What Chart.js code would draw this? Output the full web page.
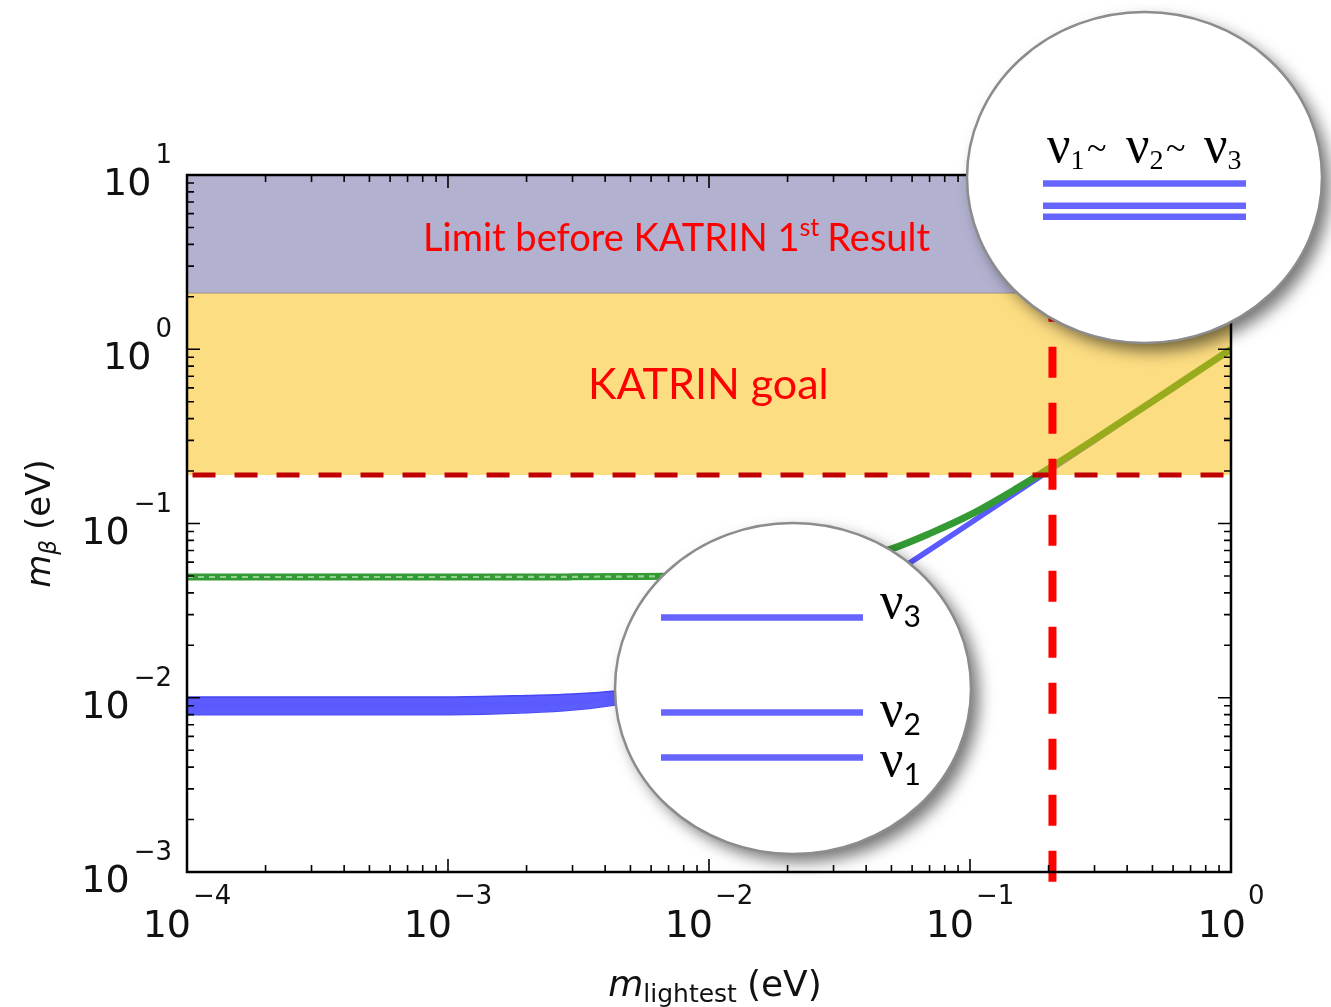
<!DOCTYPE html>
<html>
<head>
<meta charset="utf-8">
<script src="https://cdn.jsdelivr.net/npm/chart.js@4.4.0/dist/chart.umd.min.js"></script>
<style>
  html, body { margin: 0; padding: 0; background: #fff; }
  #wrap { width: 1331px; height: 1007px; }
</style>
</head>
<body>
<div id="wrap"><canvas id="mbeta" width="1331" height="1007"></canvas></div>
<script>
const mLightest = [1e-4, 2e-4, 5e-4, 1e-3, 2e-3, 3e-3, 5e-3, 7e-3, 1e-2, 1.5e-2, 2e-2, 3e-2, 5e-2, 7e-2, 0.1, 0.15, 0.2, 0.3, 0.5, 0.7, 1.0];

// normal ordering (blue band)
const normalMid  = [0.00895, 0.00895, 0.00896, 0.0090, 0.00917, 0.00944, 0.0103, 0.0114, 0.0134, 0.0175, 0.0219, 0.0313, 0.0508, 0.0706, 0.1004, 0.150, 0.200, 0.300, 0.500, 0.700, 1.0];
const normalHigh = [0.0101, 0.0101, 0.0101, 0.0101, 0.0103, 0.0105, 0.0112, 0.0123, 0.0142, 0.0181, 0.0224, 0.0317, 0.0510, 0.0707, 0.1005, 0.150, 0.200, 0.300, 0.500, 0.700, 1.0];
const normalLow  = [0.0080, 0.0080, 0.0080, 0.0080, 0.0082, 0.0085, 0.0094, 0.0106, 0.0128, 0.0170, 0.0215, 0.0310, 0.0506, 0.0704, 0.1003, 0.150, 0.200, 0.300, 0.500, 0.700, 1.0];

// inverted ordering (green band)
const invertedMid = [0.0493, 0.0493, 0.0493, 0.0493, 0.0493, 0.0494, 0.0496, 0.0498, 0.0503, 0.0515, 0.0532, 0.0580, 0.0715, 0.0875, 0.1120, 0.158, 0.206, 0.304, 0.502, 0.702, 1.0];
// flat, hatched part of the green band
const invertedFlatX = [1e-4, 1e-3, 3e-3, 7e-3];
const invertedFlatY = [0.0493, 0.0493, 0.0494, 0.0498];

// limits (eV)
const plotTop = 10;
const limitBefore = 2.1;     // before KATRIN 1st result
const katrinGoal = 0.19;     // KATRIN goal
const goalCrossX = 0.207;    // vertical marker on m_lightest
const axisFoot = 8.8e-4;     // vertical marker runs a bit below the axis

// tick labels
const xMajor = [1e-4, 1e-3, 1e-2, 1e-1, 1];
const xExp   = ['\u22124', '\u22123', '\u22122', '\u22121', '0'];
const yMajor = [1e-3, 1e-2, 1e-1, 1, 10];
const yExp   = ['\u22123', '\u22122', '\u22121', '0', '1'];

const pts = (xs, ys) => xs.map((x, i) => ({ x: x, y: ys[i] }));

const F_TICK = '38px "DejaVu Sans"';
const F_EXP  = '26px "DejaVu Sans"';

function runsWidth(ctx, runs) {
  let w = 0;
  runs.forEach(r => { ctx.font = r.font; w += ctx.measureText(r.t).width + (r.gap || 0); });
  return w;
}
function drawRuns(ctx, runs, x, y) {
  runs.forEach(r => {
    ctx.font = r.font;
    ctx.fillText(r.t, x, y + (r.dy || 0));
    x += ctx.measureText(r.t).width + (r.gap || 0);
  });
  return x;
}

const decor = {
  id: 'decor',
  afterDraw(chart) {
    const ctx = chart.ctx, a = chart.chartArea;
    const xs = chart.scales.x, ys = chart.scales.y;
    ctx.save();
    ctx.textBaseline = 'alphabetic';
    ctx.textAlign = 'left';

    // band labels
    ctx.fillStyle = '#ff0000';
    drawRuns(ctx, [
      { t: 'Limit before KATRIN 1', font: '38px Lato' },
      { t: 'st', font: '25px Lato', dy: -15, gap: 8 },
      { t: 'Result', font: '38px Lato' }
    ], 423, 251);
    drawRuns(ctx, [{ t: 'KATRIN goal', font: '43px Lato' }], 588, 399);

    // frame
    ctx.strokeStyle = '#000';
    ctx.lineWidth = 2.5;
    ctx.strokeRect(a.left, a.top, a.right - a.left, a.bottom - a.top);

    // inward ticks, all four sides
    ctx.lineWidth = 1.6;
    ctx.beginPath();
    xMajor.forEach(v => {
      for (let k = 1; k <= 9; k++) {
        const val = v * k;
        if (val > xs.max * 1.0001) break;
        const px = xs.getPixelForValue(val);
        const len = k === 1 ? 13 : 7;
        ctx.moveTo(px, a.bottom); ctx.lineTo(px, a.bottom - len);
        ctx.moveTo(px, a.top); ctx.lineTo(px, a.top + len);
      }
    });
    yMajor.forEach(v => {
      for (let k = 1; k <= 9; k++) {
        const val = v * k;
        if (val > ys.max * 1.0001) break;
        const py = ys.getPixelForValue(val);
        const len = k === 1 ? 13 : 7;
        ctx.moveTo(a.left, py); ctx.lineTo(a.left + len, py);
        ctx.moveTo(a.right, py); ctx.lineTo(a.right - len, py);
      }
    });
    ctx.stroke();

    // tick labels 10^n
    ctx.fillStyle = '#111';
    xMajor.forEach((v, i) => {
      const runs = [{ t: '10', font: F_TICK, gap: 2 }, { t: xExp[i], font: F_EXP, dy: -33 }];
      const w = runsWidth(ctx, runs);
      drawRuns(ctx, runs, xs.getPixelForValue(v) - w / 2, 937);
    });
    yMajor.forEach((v, i) => {
      const runs = [{ t: '10', font: F_TICK, gap: 4 }, { t: yExp[i], font: F_EXP, dy: -32 }];
      const w = runsWidth(ctx, runs);
      drawRuns(ctx, runs, 172 - w, ys.getPixelForValue(v) + 20);
    });

    // axis titles
    const xt = [
      { t: 'm', font: 'italic 36px "DejaVu Sans"' },
      { t: 'lightest', font: '25px "DejaVu Sans"', dy: 6, gap: 10 },
      { t: '(eV)', font: '36px "DejaVu Sans"' }
    ];
    drawRuns(ctx, xt, (a.left + a.right) / 2 + 6 - runsWidth(ctx, xt) / 2, 996);
    const yt = [
      { t: 'm', font: 'italic 34px "DejaVu Sans"' },
      { t: '\u03b2', font: 'italic 23px "DejaVu Sans"', dy: 6, gap: 10 },
      { t: '(eV)', font: '34px "DejaVu Sans"' }
    ];
    ctx.save();
    ctx.translate(50, (a.top + a.bottom) / 2);
    ctx.rotate(-Math.PI / 2);
    drawRuns(ctx, yt, -runsWidth(ctx, yt) / 2, 0);
    ctx.restore();

    // callout circles
    callouts.forEach(c => {
      ctx.save();
      ctx.shadowColor = 'rgba(0,0,0,0.55)';
      ctx.shadowBlur = 16;
      ctx.shadowOffsetX = 8;
      ctx.shadowOffsetY = 8;
      ctx.beginPath();
      ctx.ellipse(c.cx, c.cy, c.rx, c.ry, 0, 0, Math.PI * 2);
      ctx.fillStyle = '#fff';
      ctx.fill();
      ctx.restore();
      ctx.beginPath();
      ctx.ellipse(c.cx, c.cy, c.rx, c.ry, 0, 0, Math.PI * 2);
      ctx.strokeStyle = '#8c8c8c';
      ctx.lineWidth = 2.5;
      ctx.stroke();

      ctx.strokeStyle = '#6666ff';
      ctx.lineWidth = 6.5;
      ctx.beginPath();
      c.levels.forEach(ly => { ctx.moveTo(c.x0, ly); ctx.lineTo(c.x1, ly); });
      ctx.stroke();
    });

    ctx.fillStyle = '#000';
    // degenerate spectrum label: nu_1 ~ nu_2 ~ nu_3
    const nuF = '52px "Liberation Serif"', subF = '28px "Liberation Serif"';
    [[1047, '1', true], [1126, '2', true], [1204, '3', false]].forEach(([nx, s, tilde]) => {
      drawRuns(ctx, [{ t: '\u03bd', font: nuF }, { t: s, font: subF, dy: 7 }], nx, 162);
      if (tilde) drawRuns(ctx, [{ t: '~', font: '36px "Liberation Serif"' }], nx + 40, 160);
    });
    // hierarchical spectrum labels
    [['3', 618], ['2', 726], ['1', 776]].forEach(([s, by]) => {
      drawRuns(ctx, [
        { t: '\u03bd', font: nuF },
        { t: s, font: '30px Lato', dy: 9 }
      ], 880, by);
    });
    ctx.restore();
  }
};

const callouts = [
  { cx: 1144.5, cy: 177.5, rx: 177.5, ry: 165.5, x0: 1043, x1: 1246, levels: [183.5, 205.7, 216.7] },
  { cx: 793, cy: 688.5, rx: 178, ry: 165.5, x0: 661, x1: 863, levels: [617.5, 712.5, 757.5] }
];

const datasets = [
  { // 0 vertical marker
    data: [{ x: goalCrossX, y: axisFoot }, { x: goalCrossX, y: plotTop }],
    borderColor: '#ff0000', borderWidth: 8, borderDash: [31, 25], borderCapStyle: 'butt',
    clip: false, order: 1
  },
  { // 1 goal line
    data: [{ x: 1.05e-4, y: katrinGoal }, { x: 1, y: katrinGoal }],
    borderColor: '#c00000', borderWidth: 5, borderDash: [23, 19], borderCapStyle: 'butt', order: 2
  },
  { // 2 KATRIN goal band, over the curves
    data: [{ x: 1e-4, y: limitBefore }, { x: 1, y: limitBefore }],
    borderColor: 'rgba(150,140,130,0.8)', borderWidth: 1,
    fill: { value: katrinGoal }, backgroundColor: 'rgba(251,188,6,0.5)', order: 3
  },
  { // 3 green hatch
    data: pts(invertedFlatX, invertedFlatY),
    borderColor: 'rgba(160,215,160,0.9)', borderWidth: 2.2, borderDash: [6, 5], order: 5
  },
  { // 4 inverted ordering
    data: pts(mLightest, invertedMid),
    borderColor: '#349a34', borderWidth: 7, cubicInterpolationMode: 'monotone', order: 6
  },
  { // 5 normal ordering centre
    data: pts(mLightest, normalMid),
    borderColor: '#5a5aff', borderWidth: 5.5, cubicInterpolationMode: 'monotone', order: 7
  },
  { // 6 normal ordering upper edge, filled to lower edge
    data: pts(mLightest, normalHigh),
    borderColor: '#4646f2', borderWidth: 1.5, cubicInterpolationMode: 'monotone',
    fill: 7, backgroundColor: '#5c5cff', order: 8
  },
  { // 7 normal ordering lower edge
    data: pts(mLightest, normalLow),
    borderColor: '#4646f2', borderWidth: 1.5, cubicInterpolationMode: 'monotone', order: 9
  },
  { // 8 limit before KATRIN band
    data: [{ x: 1e-4, y: plotTop }, { x: 1, y: plotTop }],
    borderWidth: 0, fill: { value: limitBefore }, backgroundColor: '#b2b2d0', order: 10
  }
];

new Chart(document.getElementById('mbeta'), {
  type: 'line',
  data: { datasets: datasets },
  options: {
    responsive: false,
    animation: false,
    events: [],
    layout: { padding: { left: 187, right: 100, top: 175, bottom: 135 } },
    elements: { point: { radius: 0 }, line: { tension: 0 } },
    plugins: {
      legend: { display: false },
      tooltip: { enabled: false },
      filler: { drawTime: 'beforeDatasetDraw' }
    },
    scales: {
      x: { type: 'logarithmic', min: 1e-4, max: 1, display: false },
      y: { type: 'logarithmic', min: 1e-3, max: 10, display: false }
    }
  },
  plugins: [decor]
});
</script>
</body>
</html>
